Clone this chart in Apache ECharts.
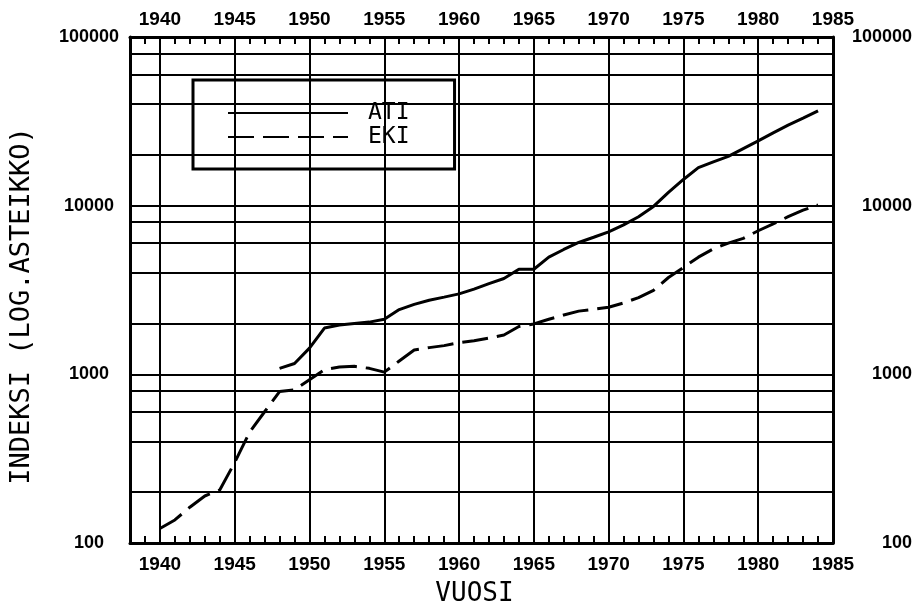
<!DOCTYPE html>
<html><head><meta charset="utf-8">
<script src="https://cdn.jsdelivr.net/npm/echarts@6/dist/echarts.min.js"></script>
<style>html,body{margin:0;padding:0;background:#fff}#c{width:920px;height:605px}</style>
</head><body><div id="c"></div>
<script>
const atiYears = [1948,1949,1950,1951,1952,1953,1954,1955,1956,1957,1958,1959,1960,1961,1962,1963,1964,1965,1966,1967,1968,1969,1970,1971,1972,1973,1974,1975,1976,1977,1978,1979,1980,1981,1982,1983,1984];
const atiValues = [1085,1160,1430,1880,1960,2000,2040,2120,2420,2600,2750,2870,3000,3200,3450,3700,4200,4200,4950,5500,6050,6500,7000,7700,8600,9900,12000,14300,16800,18200,19600,21800,24200,27000,30000,33000,36500];
const ekiYears = [1940,1941,1942,1943,1944,1945,1946,1947,1948,1949,1950,1951,1952,1953,1954,1955,1956,1957,1958,1959,1960,1961,1962,1963,1964,1965,1966,1967,1968,1969,1970,1971,1972,1973,1974,1975,1976,1977,1978,1979,1980,1981,1982,1983,1984];
const ekiValues = [122,137,163,190,206,300,455,600,790,810,930,1065,1105,1115,1085,1030,1200,1395,1440,1480,1540,1580,1640,1710,1920,1990,2120,2250,2370,2430,2500,2650,2850,3150,3750,4300,4950,5550,6000,6400,7100,7800,8600,9400,10100];
const xLabelYears = [1940,1945,1950,1955,1960,1965,1970,1975,1980,1985];
const xTickYears = [1939,1941,1942,1943,1944,1946,1947,1948,1949,1951,1952,1953,1954,1956,1957,1958,1959,1961,1962,1963,1964,1966,1967,1968,1969,1971,1972,1973,1974,1976,1977,1978,1979,1981,1982,1983,1984];
const xGridYears = [1940,1945,1950,1955,1960,1965,1970,1975,1980];
const yGridValues = [200,400,600,800,1000,2000,4000,6000,8000,10000,20000,40000,60000,80000];
const bottomTickSpan = [100, 110];
const topTickSpan = [100000, 90900];
const seriesNames = ['ATI','EKI'];
const xTitle = 'VUOSI';
const yTitle = 'INDEKSI (LOG.ASTEIKKO)';

const axisFont = {fontFamily:'Liberation Sans', fontWeight:'bold', color:'#000'};
const xLab = v => { const r = Math.round(v); return xLabelYears.indexOf(r) >= 0 ? String(r) : ''; };
const yLab = v => String(Math.round(v));
function makeXAxis(extra) {
  return Object.assign({
    type:'value', min:1938, max:1985, interval:1,
    axisLine:{show:true, onZero:false, lineStyle:{color:'#000', width:3}},
    axisTick:{show:true, inside:true, length:7, lineStyle:{color:'#000', width:2}},
    splitLine:{show:false}
  }, extra);
}
function makeYAxis(extra) {
  return Object.assign({
    type:'log', logBase:10, min:100, max:100000,
    axisLine:{show:true, lineStyle:{color:'#000', width:3}},
    axisTick:{show:false}, splitLine:{show:false}
  }, extra);
}
const gridLines = xGridYears.map(v => ({xAxis:v})).concat(yGridValues.map(v => ({yAxis:v})));
const tickLines = [];
xTickYears.forEach(y => {
  tickLines.push([{coord:[y, bottomTickSpan[0]]}, {coord:[y, bottomTickSpan[1]]}]);
  tickLines.push([{coord:[y, topTickSpan[0]]}, {coord:[y, topTickSpan[1]]}]);
});
const option = {
  animation:false, backgroundColor:'#fff',
  grid:{left:130, right:87, top:37, bottom:62, containLabel:false, outerBoundsMode:'none'},
  legend:{
    data:seriesNames, orient:'vertical', left:193, top:80,
    itemWidth:120, itemHeight:14, itemGap:1,
    padding:[21.5,45,20.5,34],
    borderColor:'#000', borderWidth:3, backgroundColor:'#fff',
    itemStyle:{opacity:0},
    textStyle:{fontFamily:'DejaVu Sans Mono', fontSize:23, color:'#000', padding:[0,0,0,15]},
    selectedMode:false
  },
  xAxis:[
    makeXAxis({position:'bottom', name:xTitle, nameLocation:'middle', nameGap:38,
      nameTextStyle:{fontFamily:'DejaVu Sans Mono', fontSize:26, color:'#000', padding:[0,14,0,0]},
      axisLabel:Object.assign({fontSize:19, margin:12, formatter:xLab}, axisFont)}),
    makeXAxis({position:'top', axisLabel:Object.assign({fontSize:19, margin:8, formatter:xLab}, axisFont)})
  ],
  yAxis:[
    makeYAxis({position:'left', name:yTitle, nameLocation:'middle', nameGap:95, nameRotate:90,
      nameTextStyle:{fontFamily:'DejaVu Sans Mono', fontSize:27, color:'#000', padding:[0,32,0,0]},
      axisLabel:Object.assign({fontSize:18, margin:41, align:'center', formatter:yLab}, axisFont)}),
    makeYAxis({position:'right', axisLabel:Object.assign({fontSize:18, margin:79, align:'right', formatter:yLab}, axisFont)})
  ],
  series:[
    {name:'grid', type:'line', data:[], z:1, silent:true,
     markLine:{silent:true, animation:false, symbol:['none','none'], label:{show:false},
       lineStyle:{color:'#000', width:2, type:'solid'},
       data:gridLines.concat(tickLines)}},
    {name:seriesNames[0], type:'line', data:atiYears.map((x,i)=>[x,atiValues[i]]), symbol:'none',
     lineStyle:{color:'#000', width:3, type:'solid'}, itemStyle:{color:'#000'}},
    {name:seriesNames[1], type:'line', data:ekiYears.map((x,i)=>[x,ekiValues[i]]), symbol:'none',
     lineStyle:{color:'#000', width:3, type:[26,9]}, itemStyle:{color:'#000'}}
  ]
};
const chart = echarts.init(document.getElementById('c'));
chart.setOption(option);
</script></body></html>
